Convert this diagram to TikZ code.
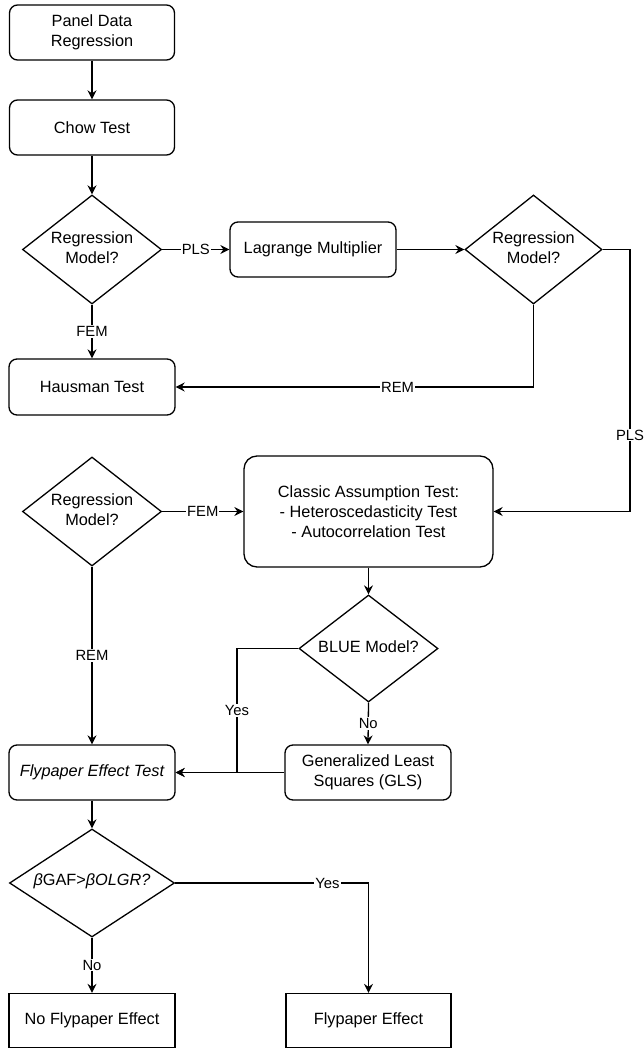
\documentclass[tikz,border=0pt]{standalone}
\usepackage{fontspec}
\setmainfont{Liberation Sans}
\usetikzlibrary{shapes.geometric,arrows.meta}
\newcommand\myNodeFont{\fontsize{16.3}{20}\selectfont}
\newcommand\myLblFont{\fontsize{14.8}{17}\selectfont}
\begin{document}
\begin{tikzpicture}[x=1pt,y=-1pt,line width=1.3pt,
  box/.style={draw, rounded corners=8pt, minimum width=165pt, minimum height=55pt, align=center, font=\myNodeFont, inner sep=2pt},
  sqbox/.style={draw, minimum width=165pt, minimum height=55pt, align=center, font=\myNodeFont, inner sep=2pt},
  dia/.style={draw, diamond, inner sep=0pt, minimum width=139pt, minimum height=109pt},
  dtext/.style={align=center, font=\myNodeFont, inner sep=0pt},
  arr/.style={-{Stealth[length=9pt,width=9pt,inset=3pt]}},
  lbl/.style={fill=white, font=\myLblFont, inner sep=1pt}
]
\useasboundingbox (0,0) rectangle (644,1048);

% nodes
\node[box] (panel) at (92,32.5) {Panel Data\\Regression};
\node[box] (chow) at (92,127.5) {Chow Test};
\node[dia] (d1) at (92,249.5) {};
\node[dtext] (d1t) at (92,247.5) {Regression\\Model?};
\node[box, minimum width=166pt] (lag) at (313,249.5) {Lagrange Multiplier};
\node[dia, minimum width=137pt] (d2) at (533.5,249.5) {};
\node[dtext] (d2t) at (533.5,247.5) {Regression\\Model?};
\node[box, minimum width=166pt, minimum height=56pt] (haus) at (92,387) {Hausman Test};
\node[dia] (d3) at (92,511.5) {};
\node[dtext] (d3t) at (92,509.5) {Regression\\Model?};
\node[box, rounded corners=13pt, minimum width=249pt, minimum height=111pt] (classic) at (368.5,511.5) {Classic Assumption Test:\\- Heteroscedasticity Test\\- Autocorrelation Test};
\node[dia, minimum height=107pt] (blue) at (368.5,648.5) {};
\node[dtext] (bluet) at (368.5,646.5) {BLUE Model?};
\node[box, minimum width=166pt] (gls) at (368,772.5) {Generalized Least\\Squares (GLS)};
\node[box, minimum width=166pt] (ftest) at (92,772.5) {\itshape Flypaper Effect Test};
\node[dia, minimum width=165pt, minimum height=108pt] (d4) at (92,883) {};
\node[dtext] (d4t) at (92,881) {{\itshape β}GAF>{\itshape βOLGR?}};
\node[sqbox, minimum width=166pt, minimum height=54pt] (nofly) at (92,1020.5) {No Flypaper Effect};
\node[sqbox, minimum width=165pt, minimum height=54pt] (fly) at (368.5,1020.5) {Flypaper Effect};

% helper coordinates
\coordinate (r1) at (630,249.5);
\coordinate (c1) at (237,772.5);

% connectors
\draw[arr] (panel) -- (chow);
\draw[arr] (chow) -- (d1);
\draw[arr] (d1.east) -- node[lbl] (l1) {PLS} (lag.west);
\draw[arr] (lag.east) -- (d2.west);
\draw[arr] (d1.south) -- node[lbl] (l2) {FEM} (haus.north);
\draw[arr] (d2.south) |- node[lbl, pos=0.69] (l3) {REM} (haus.east);
\draw[arr] (d2.east) -- (r1) |- node[lbl, pos=0.354] (l4) {PLS} (classic.east);
\draw[arr] (d3.east) -- node[lbl] (l5) {FEM} (classic.west);
\draw[arr] (d3.south) -- node[lbl] (l6) {REM} (ftest.north);
\draw[arr] (classic.south) -- (blue.north);
\draw[arr] (blue.south) -- node[lbl] (l7) {No} (gls.north);
\draw[arr] (blue.west) -| node[lbl, pos=0.75] (l8) {Yes} (c1) -- (ftest.east);
\draw[arr] (gls.west) -- (ftest.east);
\draw[arr] (ftest.south) -- (d4.north);
\draw[arr] (d4.south) -- node[lbl] (l9) {No} (nofly.north);
\draw[arr] (d4.east) -| node[lbl, pos=0.394] (l10) {Yes} (fly.north);
\end{tikzpicture}
\end{document}
